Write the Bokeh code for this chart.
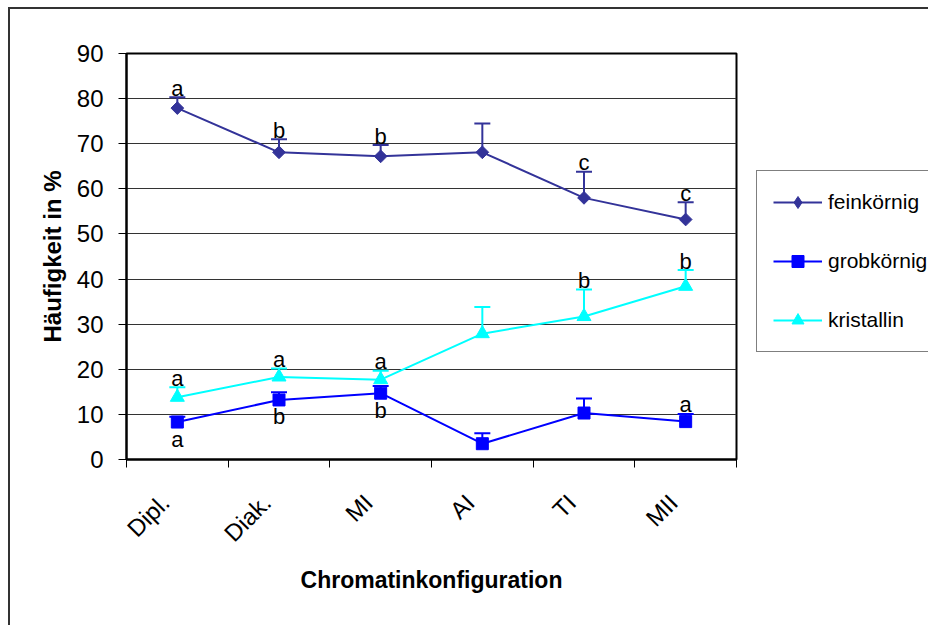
import math
from bokeh.plotting import figure
from bokeh.layouts import row
from bokeh.models import (Range1d, FixedTicker, Legend, LegendItem, Whisker,
                          TeeHead, ColumnDataSource)
from bokeh.core.properties import value
from bokeh.embed import file_html
from bokeh.resources import INLINE

# ---------------- data ----------------
categories = ["Dipl.", "Diak.", "MI", "AI", "TI", "MII"]

fein_mean = [77.9, 68.1, 67.2, 68.1, 58.0, 53.2]
fein_sd = [2.4, 2.9, 2.5, 6.4, 5.8, 3.8]
fein_sig = ["a", "b", "b", "", "c", "c"]

grob_mean = [8.3, 13.2, 14.7, 3.5, 10.3, 8.4]
grob_sd = [1.2, 1.7, 1.6, 2.3, 3.2, 1.7]
grob_sig_below = ["a", "b", "b", "", "", ""]
grob_sig_above = ["", "", "", "", "", "a"]

krist_mean = [13.8, 18.3, 17.7, 27.9, 31.7, 38.4]
krist_sd = [2.2, 1.9, 2.0, 5.9, 6.0, 3.6]
krist_sig = ["a", "a", "a", "", "b", "b"]

y_ticks = [0, 10, 20, 30, 40, 50, 60, 70, 80, 90]

series_names = ["feinkörnig", "grobkörnig", "kristallin"]
colors = ["#333399", "#0000FF", "#00FFFF"]

FONT = "Liberation Sans"
H = 616
FRAME_BOTTOM = 450

# ---------------- main figure ----------------
n = len(categories)
xs = [i + 0.5 for i in range(n)]
label_pos = [x - 0.12 for x in xs]      # rotated labels end just left of centre
bounds = [i for i in range(n + 1)]

p = figure(width=746, height=H, x_range=Range1d(0, n), y_range=Range1d(0, 90),
           output_backend="svg", toolbar_location=None,
           min_border_left=116, min_border_right=20, min_border_top=44,
           min_border_bottom=H - FRAME_BOTTOM)

p.outline_line_color = "black"
p.outline_line_width = 2
p.xgrid.visible = False
p.ygrid.ticker = FixedTicker(ticks=y_ticks)
p.ygrid.grid_line_color = "#333333"
p.ygrid.grid_line_width = 1

# y axis
p.yaxis.ticker = FixedTicker(ticks=y_ticks)
p.yaxis.major_tick_out = 8
p.yaxis.major_tick_in = 0
p.yaxis.minor_tick_line_color = None
p.yaxis.axis_line_width = 2
p.yaxis.major_tick_line_color = "black"
p.yaxis.major_label_text_font = FONT
p.yaxis.major_label_text_font_size = "24px"
p.yaxis.major_label_text_color = "black"
p.yaxis.major_label_standoff = 15
p.yaxis.axis_label = "Häufigkeit in %"
p.yaxis.axis_label_text_font = FONT
p.yaxis.axis_label_text_font_size = "24px"
p.yaxis.axis_label_text_font_style = "bold"
p.yaxis.axis_label_text_color = "black"
p.yaxis.axis_label_standoff = 8

# x axis: labels at category centres, ticks at category boundaries
p.xaxis.ticker = FixedTicker(ticks=label_pos, minor_ticks=bounds)
p.xaxis.major_label_overrides = {x: c for x, c in zip(label_pos, categories)}
p.xaxis.major_label_orientation = math.pi / 4
p.xaxis.major_tick_out = 0
p.xaxis.major_tick_in = 0
p.xaxis.major_tick_line_color = None
p.xaxis.minor_tick_out = 8
p.xaxis.minor_tick_in = 0
p.xaxis.minor_tick_line_color = "black"
p.xaxis.axis_line_width = 2
p.xaxis.major_label_text_font = FONT
p.xaxis.major_label_text_font_size = "24px"
p.xaxis.major_label_text_color = "black"
p.xaxis.major_label_standoff = 31
p.xaxis.axis_label = "Chromatinkonfiguration"
p.xaxis.axis_label_text_font = FONT
p.xaxis.axis_label_text_font_size = "23px"
p.xaxis.axis_label_text_font_style = "bold"
p.xaxis.axis_label_text_color = "black"
p.xaxis.axis_label_standoff = 8

# ---------------- series ----------------
means = [fein_mean, grob_mean, krist_mean]
sds = [fein_sd, grob_sd, krist_sd]
markers = ["square", "square", "triangle"]
angles = [math.pi / 4, 0, 0]
sizes = [9, 12, 14]

for m, sd, col, mk, ang, sz in zip(means, sds, colors, markers, angles, sizes):
    src = ColumnDataSource(dict(x=xs, y=m, upper=[a + b for a, b in zip(m, sd)]))
    w = Whisker(base="x", upper="upper", lower="y", source=src, dimension="height",
                line_color=col, line_width=2,
                upper_head=TeeHead(size=16, line_color=col, line_width=2),
                lower_head=None)
    p.add_layout(w)
    p.line("x", "y", source=src, line_color=col, line_width=2)
    p.scatter("x", "y", source=src, marker=mk, size=sz, angle=ang,
              fill_color=col, line_color=col)

# significance letters
def letters(m, sd, labs, above=True):
    if above:
        ys = [a + b for a, b in zip(m, sd)]
        off = -9
    else:
        ys = list(m)
        off = 17
    src = ColumnDataSource(dict(x=xs, y=ys, t=labs))
    p.text("x", "y", text="t", source=src, text_font=value(FONT),
           text_font_size="22px", text_align="center",
           text_baseline="alphabetic", y_offset=off, text_color="black")

letters(fein_mean, fein_sd, fein_sig)
letters(krist_mean, krist_sd, krist_sig)
letters(grob_mean, grob_sd, grob_sig_above)
letters(grob_mean, grob_sd, grob_sig_below, above=False)

# ---------------- legend panel ----------------
p2 = figure(width=172, height=H, x_range=Range1d(0, 1), y_range=Range1d(0, 1),
            output_backend="svg", toolbar_location=None,
            x_axis_location=None, y_axis_location=None,
            min_border_left=0, min_border_right=0, min_border_top=0,
            min_border_bottom=0)
p2.grid.visible = False
p2.outline_line_color = None

legend_markers = ["diamond", "square", "triangle"]
items = []
for name, col, mk in zip(series_names, colors, legend_markers):
    lr = p2.line(x=[-5, -4], y=[-5, -4], line_color=col, line_width=2)
    sr = p2.scatter(x=[-5], y=[-5], marker=mk, size=12, fill_color=col, line_color=col)
    items.append(LegendItem(label=name, renderers=[lr, sr]))

# frames of the row are aligned: legend bottom 343 px from the top of the panel
legend = Legend(items=items, location=(0, FRAME_BOTTOM - 343))
legend.border_line_color = "black"
legend.border_line_width = 1
legend.padding = 16
legend.spacing = 29
legend.margin = 0
legend.glyph_width = 49
legend.glyph_height = 30
legend.label_height = 30
legend.label_standoff = 6
legend.label_text_font = FONT
legend.label_text_font_size = "21px"
legend.label_text_color = "black"
legend.background_fill_color = "white"
legend.background_fill_alpha = 1
p2.add_layout(legend)

layout = row(p, p2)
layout.styles = {"border-left": "2px solid #333333", "border-top": "2px solid #333333",
                 "margin-left": "8px", "margin-top": "7px"}

open("out.html", "w").write(file_html(layout, INLINE))
